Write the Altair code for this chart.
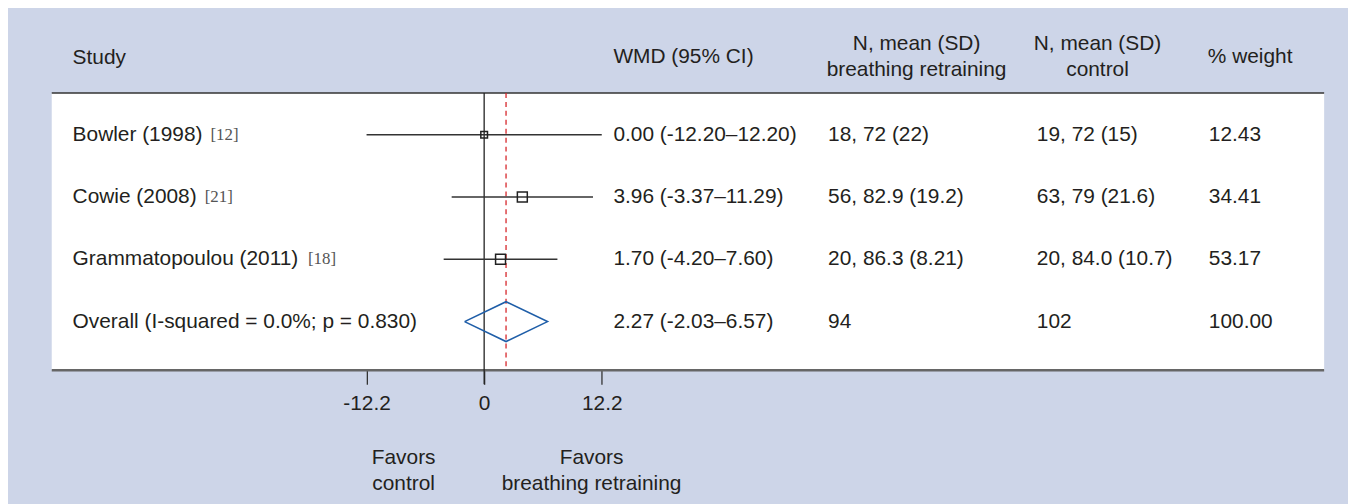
import altair as alt
import pandas as pd

# ---------------- data ----------------
studies = ["Bowler (1998)", "Cowie (2008)", "Grammatopoulou (2011)"]
refs = ["[12]", "[21]", "[18]"]
wmd = [0.00, 3.96, 1.70]
ci_lo = [-12.20, -3.37, -4.20]
ci_hi = [12.20, 11.29, 7.60]
n_breathing = ["18, 72 (22)", "56, 82.9 (19.2)", "20, 86.3 (8.21)"]
n_control = ["19, 72 (15)", "63, 79 (21.6)", "20, 84.0 (10.7)"]
weights = [12.43, 34.41, 53.17]

overall_label = "Overall (I-squared = 0.0%; p = 0.830)"
overall_est = 2.27
overall_lo = -2.03
overall_hi = 6.57
overall_breathing = "94"
overall_control = "102"
overall_weight = 100.00

tick_values = [-12.2, 0, 12.2]

header_single = ["Study", "WMD (95% CI)", "% weight"]
header_br = ["N, mean (SD)", "breathing retraining"]
header_ctl = ["N, mean (SD)", "control"]
favors_left = ["Favors", "control"]
favors_right = ["Favors", "breathing retraining"]

# ---------------- style ----------------
FONT = "Liberation Sans"
SERIF = "Liberation Serif"
FS = 21
TXT = "#231f20"
BG = "#CDD5E8"
W, H = 1348, 496

# ---------------- tables ----------------
rows = pd.DataFrame({
    "row": [0, 1, 2, 3],
    "label": studies + [overall_label],
    "wmd_txt": [f"{e:.2f} ({l:.2f}–{h:.2f})" for e, l, h in zip(wmd, ci_lo, ci_hi)]
               + [f"{overall_est:.2f} ({overall_lo:.2f}–{overall_hi:.2f})"],
    "br": n_breathing + [overall_breathing],
    "ctl": n_control + [overall_control],
    "wt": [f"{w:.2f}" for w in weights + [overall_weight]],
})

study_df = pd.DataFrame({
    "row": [0, 1, 2],
    "est": wmd,
    "lo": ci_lo,
    "hi": ci_hi,
    "weight": weights,
})

hh = 0.32
diamond = pd.DataFrame({
    "x": [overall_lo, overall_est, overall_hi, overall_est, overall_lo],
    "y": [3, 3 - hh, 3, 3 + hh, 3],
    "k": [0, 1, 2, 3, 4],
})

one = pd.DataFrame({"v": [0]})
ov = pd.DataFrame({"est": [overall_est]})

xs = alt.Scale(domain=[-12.2, 12.2], range=[360.7, 597.3], nice=False, zero=False)
ys = alt.Scale(domain=[0, 3], range=[126, 314], nice=False, zero=False)
ax = alt.Axis(
    values=tick_values, offset=-133, domain=False, grid=False,
    tickSize=14, tickWidth=1.3, tickColor="#333333",
    labelFont=FONT, labelFontSize=FS, labelColor=TXT, labelPadding=8,
    labelFlush=False, labelOverlap=False,
    labelExpr="datum.value == 0 ? '0' : (datum.value < 0 ? '-' + format(-datum.value, '.1f') : format(datum.value, '.1f'))",
)


def X(field):
    return alt.X(field, type="quantitative", scale=xs, axis=ax, title=None)


def Y(field):
    return alt.Y(field, type="quantitative", scale=ys, axis=None)


# Arial / Liberation Sans advance widths (1/1000 em)
AW = {" ": 278, "(": 333, ")": 333, "B": 667, "C": 722, "G": 778, "a": 556, "e": 556,
      "i": 222, "l": 222, "m": 833, "o": 556, "p": 556, "r": 333, "t": 278, "u": 556, "w": 722}


def text_width(s, size):
    return sum(AW.get(c, 556) for c in s) * size / 1000.0


def txt(s, x, y, align="left", font=FONT, size=FS, color=TXT):
    return alt.Chart(pd.DataFrame({"t": [s]})).mark_text(
        font=font, fontSize=size, color=color, align=align, baseline="middle"
    ).encode(text="t:N", x=alt.value(x), y=alt.value(y))


LABEL_X = 65
layers = []

# white panel
layers.append(alt.Chart(one).mark_rect(color="white").encode(
    x=alt.value(44), x2=alt.value(1324), y=alt.value(84), y2=alt.value(363)))
# header line
layers.append(alt.Chart(one).mark_rule(color="#333333", strokeWidth=1.5).encode(
    x=alt.value(44), x2=alt.value(1324), y=alt.value(84)))
# bottom line
layers.append(alt.Chart(one).mark_rule(color="#666666", strokeWidth=2.5).encode(
    x=alt.value(44), x2=alt.value(1324), y=alt.value(363)))
# zero line (carries the axis)
layers.append(alt.Chart(one).mark_rule(color="#222222", strokeWidth=1.3).encode(
    x=X("v"), y=alt.value(84), y2=alt.value(377)))
# overall estimate dashed line
layers.append(alt.Chart(ov).mark_rule(color="#d6262b", strokeWidth=1.3, strokeDash=[5, 4]).encode(
    x=X("est"), y=alt.value(84), y2=alt.value(363)))
# confidence intervals
layers.append(alt.Chart(study_df).mark_rule(color="#333333", strokeWidth=1.5).encode(
    x=X("lo"), x2="hi", y=Y("row")))
# squares
layers.append(alt.Chart(study_df).mark_point(
    shape="square", filled=False, color="#222222", strokeWidth=1.5, opacity=1).encode(
    x=X("est"), y=Y("row"),
    size=alt.Size("weight:Q", scale=alt.Scale(domain=[12.43, 34.41], range=[45, 100], clamp=True), legend=None)))
# diamond
layers.append(alt.Chart(diamond).mark_line(color="#1f5ea8", strokeWidth=1.6).encode(
    x=X("x"), y=Y("y"), order="k:Q"))

# row text columns
for field, xpos in [("label", LABEL_X), ("wmd_txt", 609), ("br", 825), ("ctl", 1035), ("wt", 1208)]:
    layers.append(alt.Chart(rows).mark_text(
        font=FONT, fontSize=FS, color=TXT, align="left", baseline="middle").encode(
        text=f"{field}:N", x=alt.value(xpos), y=Y("row")))

# references in serif
for i, (s, r) in enumerate(zip(studies, refs)):
    rx = LABEL_X + text_width(s, FS) + 8
    layers.append(alt.Chart(pd.DataFrame({"t": [r], "row": [i]})).mark_text(
        font=SERIF, fontSize=17, color="#555555", align="left", baseline="middle").encode(
        text="t:N", x=alt.value(rx), y=Y("row")))

# headers
layers.append(txt(header_single[0], LABEL_X, 49))
layers.append(txt(header_single[1], 609, 48))
layers.append(txt(header_single[2], 1207, 48))
layers.append(txt(header_br[0], 914, 35, "center"))
layers.append(txt(header_br[1], 914, 61, "center"))
layers.append(txt(header_ctl[0], 1096, 35, "center"))
layers.append(txt(header_ctl[1], 1096, 61, "center"))

# favors labels
layers.append(txt(favors_left[0], 398, 451, "center"))
layers.append(txt(favors_left[1], 398, 477, "center"))
layers.append(txt(favors_right[0], 587, 451, "center"))
layers.append(txt(favors_right[1], 587, 477, "center"))

chart = alt.layer(*layers).properties(
    width=W, height=H, autosize=alt.AutoSizeParams(type="none"), padding=0, background=BG
).configure_view(strokeWidth=0)

chart.save("out.html", embed_options={"renderer": "svg", "actions": False})
